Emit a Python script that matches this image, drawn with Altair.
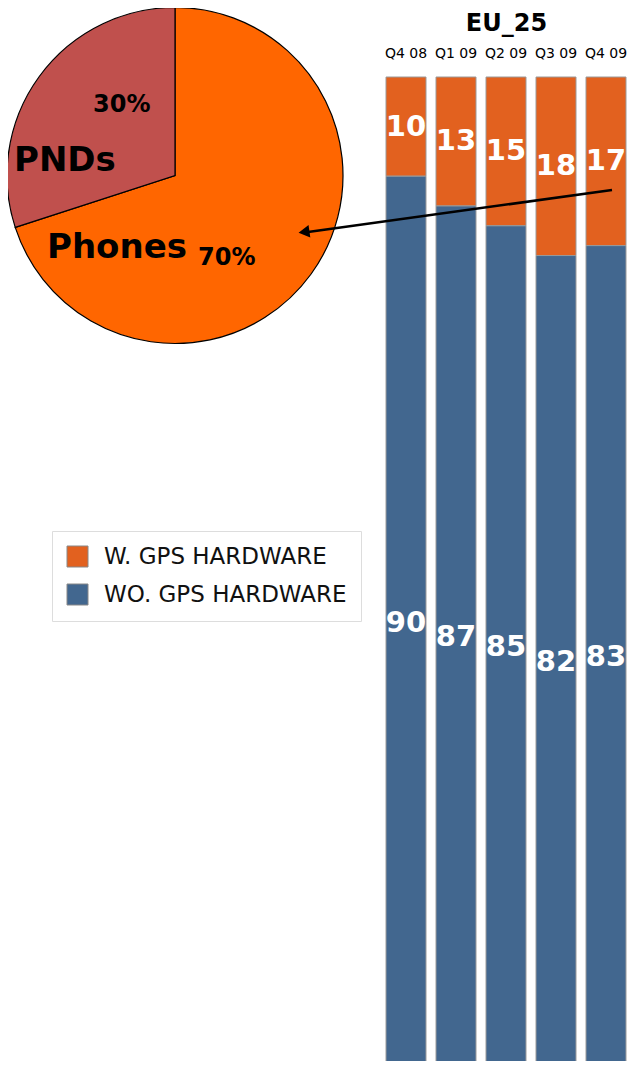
import altair as alt
import pandas as pd

quarters = ["Q4 08", "Q1 09", "Q2 09", "Q3 09", "Q4 09"]
w_gps = [10, 13, 15, 18, 17]
wo_gps = [90, 87, 85, 82, 83]
series = ["W. GPS HARDWARE", "WO. GPS HARDWARE"]
series_colors = ["#E2611F", "#42678F"]

pie_slices = ["Phones", "PNDs"]
pie_shares = [70, 30]
pie_colors = ["#FF6600", "#C0504D"]

rows = []
for q, a, b in zip(quarters, w_gps, wo_gps):
    rows.append({"quarter": q, "series": series[0], "value": a, "rank": 1})
    rows.append({"quarter": q, "series": series[1], "value": b, "rank": 0})
bar_df = pd.DataFrame(rows)

pie_df = pd.DataFrame({"slice": pie_slices, "share": pie_shares,
                       "porder": list(range(len(pie_slices)))})
pie_df["pct"] = pie_df["share"].astype(str) + "%"

FONT = "DejaVu Sans"
xscale = alt.Scale(domain=quarters, range=[373, 623], paddingInner=0.2, paddingOuter=0.1)
yscale = alt.Scale(domain=[0, 100], range=[1061, 69])

bars = alt.Chart(bar_df).mark_bar(stroke="#9a9a9a", strokeWidth=1).encode(
    x=alt.X("quarter:N", sort=quarters, scale=xscale,
            axis=alt.Axis(orient="top", title="EU_25", offset=-56, ticks=False, tickSize=0,
                          domain=False, labelAngle=0, labelFont=FONT, labelFontSize=14,
                          labelColor="#000", labelPadding=4, titleFont=FONT,
                          titleFontSize=24, titleFontWeight="bold", titleColor="#000",
                          titlePadding=11, labelOverlap=False)),
    y=alt.Y("value:Q", stack="zero", scale=yscale, axis=None),
    color=alt.Color("series:N", scale=alt.Scale(domain=series, range=series_colors),
                    legend=alt.Legend(title=None, orient="none", legendX=44, legendY=523,
                                      symbolType="square", symbolSize=441,
                                      symbolStrokeColor="#888", symbolStrokeWidth=1,
                                      labelFont=FONT, labelFontSize=23, labelColor="#111",
                                      labelOffset=15, rowPadding=13, padding=14,
                                      strokeColor="#dddddd", fillColor="white",
                                      labelLimit=400)),
    order=alt.Order("rank:Q"),
)

labels = alt.Chart(bar_df).transform_stack(
    stack="value", groupby=["quarter"], as_=["v0", "v1"],
    sort=[alt.SortField("rank", order="ascending")]
).transform_calculate(mid="(datum.v0 + datum.v1) / 2").mark_text(
    font=FONT, fontSize=29, fontWeight="bold", color="white", baseline="middle"
).encode(
    x=alt.X("quarter:N", sort=quarters, scale=xscale),
    y=alt.Y("mid:Q", scale=yscale),
    text=alt.Text("value:Q"),
)

pie = alt.Chart(pie_df).mark_arc(stroke="black", strokeWidth=1.2, radius=168).encode(
    theta=alt.Theta("share:Q", stack=True),
    color=alt.Color("slice:N", scale=alt.Scale(domain=pie_slices, range=pie_colors), legend=None),
    order=alt.Order("porder:Q"),
    x=alt.value(167),
    y=alt.value(167.5),
)

def pie_text(name, field, size, x, y):
    return alt.Chart(pie_df).transform_filter(alt.datum.slice == name).mark_text(
        font=FONT, fontSize=size, fontWeight="bold", color="black",
        align="left", baseline="alphabetic"
    ).encode(text=f"{field}:N", x=alt.value(x), y=alt.value(y))

pnds_lbl = pie_text("PNDs", "slice", 34, 6, 163)
phones_lbl = pie_text("Phones", "slice", 34, 39, 250)
pct30 = pie_text("PNDs", "pct", 24, 85, 104)
pct70 = pie_text("Phones", "pct", 24, 190, 257)

arrow_line = alt.Chart(pie_df).transform_filter(alt.datum.slice == "Phones").mark_rule(
    color="black", strokeWidth=2.5
).encode(x=alt.value(604), y=alt.value(182), x2=alt.value(300), y2=alt.value(224))

arrow_head = alt.Chart(pie_df).transform_filter(alt.datum.slice == "Phones").mark_point(
    shape="triangle-left", filled=True, color="black", size=160, angle=352, opacity=1
).encode(x=alt.value(296), y=alt.value(224))

chart = alt.layer(
    pie, pnds_lbl, phones_lbl, pct30, pct70, bars, labels, arrow_line, arrow_head
).resolve_scale(color="independent").properties(
    width=619, height=1053, autosize=alt.AutoSizeParams(type="none"), padding=0
).configure_view(stroke=None)

chart.save("out.html", embed_options={"renderer": "svg", "actions": False})
